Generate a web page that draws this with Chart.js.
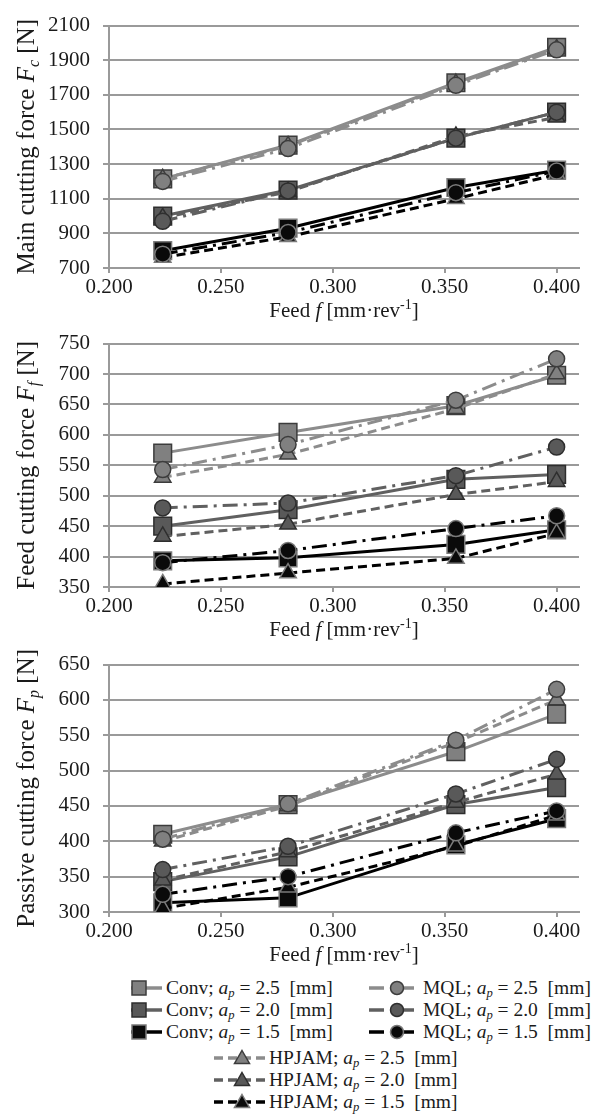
<!DOCTYPE html>
<html>
<head>
<meta charset="utf-8">
<script src="https://cdn.jsdelivr.net/npm/chart.js@4/dist/chart.umd.min.js"></script>
<style>
  body { margin: 0; background: #fff; }
  #page { position: relative; width: 602px; height: 1119px; overflow: hidden; background: #fff; }
  canvas { position: absolute; left: 0; }
  .lg { position: absolute; height: 22px; display: flex; align-items: center;
        font-family: "Liberation Serif", "Times New Roman", serif; font-size: 19.5px; color: #1a1a1a; white-space: pre; }
  .lg svg { flex: none; }
  .lg sub { font-size: 0.65em; vertical-align: -0.2em; line-height: 0; }
</style>
</head>
<body>
<div id="page">
  <canvas id="fc" width="602" height="325" style="top:0px"></canvas>
  <canvas id="ff" width="602" height="326" style="top:318px"></canvas>
  <canvas id="fp" width="602" height="330" style="top:639px"></canvas>
  <div id="legend"></div>
</div>
<script>
// feed rates [mm/rev] and axis ticks
const feed = [0.224, 0.28, 0.355, 0.4];
const xTicks = [0.2, 0.25, 0.3, 0.35, 0.4];

// main cutting force Fc [N]
const fcConv25 = [1215, 1410, 1770, 1975];
const fcConv20 = [1000, 1150, 1450, 1600];
const fcConv15 = [800, 930, 1165, 1265];
const fcMql25 = [1200, 1390, 1755, 1960];
const fcMql20 = [970, 1145, 1450, 1600];
const fcMql15 = [780, 905, 1135, 1260];
const fcHp25 = [1215, 1405, 1765, 1965];
const fcHp20 = [990, 1140, 1460, 1570];
const fcHp15 = [760, 880, 1100, 1240];
const fcTicks = [700, 900, 1100, 1300, 1500, 1700, 1900, 2100];

// feed cutting force Ff [N]
const ffConv25 = [570, 604, 648, 698];
const ffConv20 = [450, 477, 527, 535];
const ffConv15 = [393, 398, 420, 444];
const ffMql25 = [543, 584, 657, 725];
const ffMql20 = [480, 488, 533, 580];
const ffMql15 = [390, 410, 446, 467];
const ffHp25 = [530, 568, 643, 700];
const ffHp20 = [433, 453, 502, 523];
const ffHp15 = [355, 373, 397, 438];
const ffTicks = [350, 400, 450, 500, 550, 600, 650, 700, 750];

// passive cutting force Fp [N]
const fpConv25 = [410, 452, 527, 580];
const fpConv20 = [343, 378, 452, 476];
const fpConv15 = [313, 320, 395, 432];
const fpMql25 = [403, 453, 543, 615];
const fpMql20 = [360, 393, 467, 516];
const fpMql15 = [325, 350, 412, 443];
const fpHp25 = [400, 450, 540, 600];
const fpHp20 = [345, 385, 455, 495];
const fpHp15 = [305, 335, 393, 437];
const fpTicks = [300, 350, 400, 450, 500, 550, 600, 650];

const depths = ["2.5", "2.0", "1.5"];

// styles
const shade = {
  "2.5": { line: "#8c8c8c", fill: "#808080", edge: "#3c3c3c" },
  "2.0": { line: "#606060", fill: "#595959", edge: "#2e2e2e" },
  "1.5": { line: "#000000", fill: "#0a0a0a", edge: "#7a7a7a" },
};
const kinds = {
  Conv: { point: "rect", radius: 12.5, dash: [], order: 3 },
  HPJAM: { point: "triangle", radius: 9.5, dash: [9, 5], order: 2 },
  MQL: { point: "circle", radius: 8, dash: [15, 6, 3, 6], order: 1 },
};
const GRID = "#9a9a9a";
const FONT = '"Liberation Serif", "Times New Roman", serif';

function dataset(kind, ap, values) {
  const k = kinds[kind], c = shade[ap];
  return {
    label: kind + "; ap = " + ap + " [mm]",
    data: feed.map((f, i) => ({ x: f, y: values[i] })),
    borderColor: c.line,
    borderWidth: 3,
    borderDash: k.dash,
    pointStyle: k.point,
    pointRadius: k.radius,
    pointBackgroundColor: c.fill,
    pointBorderColor: c.edge,
    pointBorderWidth: 1.5,
    tension: 0,
    order: k.order,
  };
}

// draws text with italic / sub / sup parts, centred on (x, y)
function drawRich(ctx, parts, size, x, y, rotate) {
  const fontOf = (p) => (p.i ? "italic " : "") + (p.sub || p.sup ? Math.round(size * 0.65) : size) + "px " + FONT;
  ctx.save();
  ctx.translate(x, y);
  if (rotate) ctx.rotate(-Math.PI / 2);
  let w = 0;
  parts.forEach((p) => { ctx.font = fontOf(p); w += ctx.measureText(p.t).width; });
  let cx = -w / 2;
  ctx.fillStyle = "#1a1a1a";
  ctx.textBaseline = "alphabetic";
  const base = size * 0.33;
  parts.forEach((p) => {
    ctx.font = fontOf(p);
    const dy = p.sub ? size * 0.2 : p.sup ? -size * 0.4 : 0;
    ctx.fillText(p.t, cx, base + dy);
    cx += ctx.measureText(p.t).width;
  });
  ctx.restore();
}

const richTitles = {
  id: "richTitles",
  afterDraw(chart, args, opts) {
    const a = chart.chartArea;
    drawRich(chart.ctx, opts.y, 25, 26, (a.top + a.bottom) / 2, true);
    drawRich(chart.ctx, opts.x, 21, (a.left + a.right) / 2, a.bottom + 42, false);
  },
};

const feedTitle = [{ t: "Feed " }, { t: "f", i: true }, { t: " [mm·rev" }, { t: "-1", sup: true }, { t: "]" }];

function makeChart(id, series, ticks, yParts, areaTop, areaBottom, canvasTop) {
  const canvas = document.getElementById(id);
  const xAxisH = canvas.height - (areaBottom - canvasTop);
  const datasets = [];
  ["Conv", "HPJAM", "MQL"].forEach((kind) => {
    depths.forEach((ap, j) => datasets.push(dataset(kind, ap, series[kind][j])));
  });
  return new Chart(canvas, {
    type: "line",
    data: { datasets },
    plugins: [richTitles],
    options: {
      responsive: false,
      animation: false,
      devicePixelRatio: 1,
      layout: { padding: { top: areaTop - canvasTop, left: 0, right: 23, bottom: 0 } },
      plugins: {
        legend: { display: false },
        tooltip: { enabled: false },
        richTitles: { y: yParts, x: feedTitle },
      },
      scales: {
        x: {
          type: "linear",
          min: 0.2,
          max: 0.41,
          afterBuildTicks: (s) => { s.ticks = xTicks.map((v) => ({ value: v })); },
          afterFit: (s) => { s.height = xAxisH; },
          grid: { drawOnChartArea: false, drawTicks: true, tickLength: 5, color: GRID, lineWidth: 2 },
          border: { color: GRID, width: 2 },
          ticks: {
            callback: (v) => Number(v).toFixed(3),
            font: { family: FONT, size: 21 },
            color: "#1a1a1a",
            padding: 2,
            maxRotation: 0,
            autoSkip: false,
          },
        },
        y: {
          min: ticks[0],
          max: ticks[ticks.length - 1],
          afterBuildTicks: (s) => { s.ticks = ticks.map((v) => ({ value: v })); },
          afterFit: (s) => { s.width = 109; },
          grid: { color: GRID, lineWidth: 2, tickLength: 6 },
          border: { color: GRID, width: 2 },
          ticks: {
            callback: (v) => String(v),
            font: { family: FONT, size: 21 },
            color: "#1a1a1a",
            padding: 13,
          },
        },
      },
    },
  });
}

makeChart("fc",
  { Conv: [fcConv25, fcConv20, fcConv15], HPJAM: [fcHp25, fcHp20, fcHp15], MQL: [fcMql25, fcMql20, fcMql15] },
  fcTicks,
  [{ t: "Main cutting force " }, { t: "F", i: true }, { t: "c", i: true, sub: true }, { t: " [N]" }],
  15, 268, 0);

makeChart("ff",
  { Conv: [ffConv25, ffConv20, ffConv15], HPJAM: [ffHp25, ffHp20, ffHp15], MQL: [ffMql25, ffMql20, ffMql15] },
  ffTicks,
  [{ t: "Feed cutting force " }, { t: "F", i: true }, { t: "f", i: true, sub: true }, { t: " [N]" }],
  333, 587, 318);

makeChart("fp",
  { Conv: [fpConv25, fpConv20, fpConv15], HPJAM: [fpHp25, fpHp20, fpHp15], MQL: [fpMql25, fpMql20, fpMql15] },
  fpTicks,
  [{ t: "Passive cutting force " }, { t: "F", i: true }, { t: "p", i: true, sub: true }, { t: " [N]" }],
  654, 912, 639);

// legend (html), samples drawn with the same styles as the series
function sample(kind, ap, w, mx) {
  const k = kinds[kind], c = shade[ap];
  let marker = "";
  if (k.point === "rect") marker = `<rect x="${mx - 7}" y="4" width="14" height="14" fill="${c.fill}" stroke="${c.edge}" stroke-width="1.5"/>`;
  if (k.point === "circle") marker = `<circle cx="${mx}" cy="11" r="6.5" fill="${c.fill}" stroke="${c.edge}" stroke-width="1.5"/>`;
  if (k.point === "triangle") marker = `<polygon points="${mx},3.5 ${mx + 7.5},16.5 ${mx - 7.5},16.5" fill="${c.fill}" stroke="${c.edge}" stroke-width="1.5"/>`;
  return `<svg width="${w}" height="22"><line x1="0" y1="11" x2="${w}" y2="11" stroke="${c.line}" stroke-width="3.5" stroke-dasharray="${k.dash.join(" ") || "none"}"/>${marker}</svg>`;
}
const legendCols = [
  { kind: "Conv", left: 131, w: 31, mx: 8, gap: 4, rows: [988, 1010, 1032] },
  { kind: "MQL", left: 369, w: 51, mx: 28, gap: 3, rows: [988, 1010, 1032] },
  { kind: "HPJAM", left: 214, w: 52, mx: 28, gap: 3, rows: [1058, 1080, 1102] },
];
let html = "";
legendCols.forEach((col) => {
  depths.forEach((ap, j) => {
    html += `<div class="lg" style="left:${col.left}px;top:${col.rows[j] - 11}px">` +
      sample(col.kind, ap, col.w, col.mx) +
      `<span style="margin-left:${col.gap}px">${col.kind}; <i>a<sub>p</sub></i> = ${ap}  [mm]</span></div>`;
  });
});
document.getElementById("legend").innerHTML = html;
</script>
</body>
</html>
